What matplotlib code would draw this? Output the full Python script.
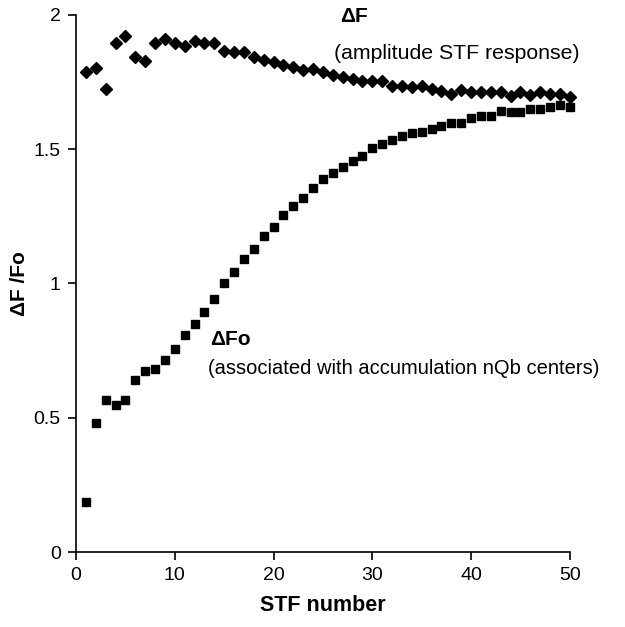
import matplotlib

matplotlib.use("Agg")
import matplotlib.pyplot as plt
import numpy as np

plt.rcParams["font.family"] = ["Liberation Sans", "DejaVu Sans"]

# STF flash number
stf = np.arange(1, 51)

# Delta F  (amplitude of STF response), diamonds
delta_f = [
    1.786, 1.801, 1.726, 1.894, 1.920, 1.842, 1.827, 1.894, 1.912, 1.894,
    1.884, 1.904, 1.894, 1.894, 1.867, 1.861, 1.861, 1.842, 1.833, 1.824,
    1.813, 1.805, 1.796, 1.799, 1.786, 1.777, 1.770, 1.761, 1.755, 1.753,
    1.753, 1.734, 1.737, 1.730, 1.737, 1.725, 1.718, 1.705, 1.720, 1.715,
    1.712, 1.712, 1.712, 1.700, 1.715, 1.703, 1.715, 1.705, 1.705, 1.693,
]

# Delta Fo  (accumulation of nQb centers), squares
delta_fo = [
    0.188, 0.481, 0.565, 0.547, 0.565, 0.639, 0.673, 0.683, 0.716, 0.756,
    0.807, 0.850, 0.893, 0.943, 1.000, 1.042, 1.093, 1.127, 1.177, 1.210,
    1.254, 1.288, 1.320, 1.354, 1.388, 1.410, 1.434, 1.456, 1.475, 1.503,
    1.519, 1.534, 1.550, 1.559, 1.565, 1.577, 1.587, 1.598, 1.598, 1.616,
    1.622, 1.622, 1.641, 1.637, 1.639, 1.649, 1.649, 1.656, 1.664, 1.656,
]

x_ticks = [0, 10, 20, 30, 40, 50]
y_ticks = [0, 0.5, 1, 1.5, 2]
y_tick_labels = ["0", "0.5", "1", "1.5", "2"]

fig = plt.figure(figsize=(6.25, 6.27), dpi=100)
ax = fig.add_axes([0.1216, 0.1196, 0.790, 0.8565])

ax.plot(stf, delta_f, linestyle="none", marker="D", markersize=6.0,
        color="black", clip_on=False)
ax.plot(stf, delta_fo, linestyle="none", marker="s", markersize=6.4,
        color="black", clip_on=False)

ax.set_xlim(0, 50)
ax.set_ylim(0, 2)
ax.set_xticks(x_ticks)
ax.set_yticks(y_ticks)
ax.set_yticklabels(y_tick_labels)
ax.tick_params(direction="out", length=6, width=1.2, labelsize=14, pad=5)

for side in ("top", "right"):
    ax.spines[side].set_visible(False)
for side in ("left", "bottom"):
    ax.spines[side].set_linewidth(1.2)

ax.set_xlabel("STF number", fontsize=15.5, fontweight="bold", labelpad=8)
ax.set_ylabel("ΔF /Fo", fontsize=15, fontweight="bold", labelpad=3)

ax.text(26.7, 1.993, "ΔF", fontsize=15, fontweight="bold", va="center")
ax.text(26.1, 1.858, "(amplitude STF response)", fontsize=15.3, va="center")
ax.text(13.6, 0.793, "ΔFo", fontsize=15, fontweight="bold", va="center")
ax.text(13.4, 0.685, "(associated with accumulation nQb centers)",
        fontsize=14.5, va="center")

fig.savefig("out.png", dpi=100)
plt.close("all")
